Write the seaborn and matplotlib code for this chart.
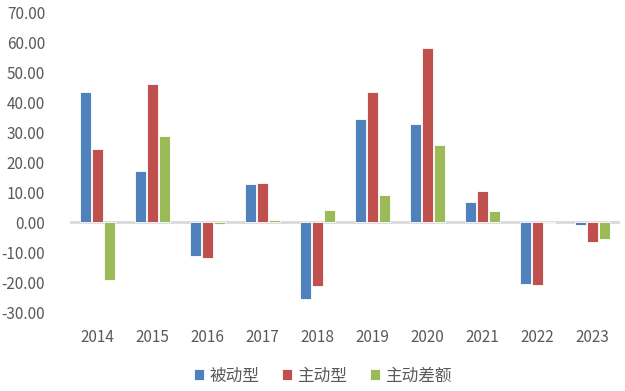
import pandas as pd
import matplotlib.pyplot as plt
import seaborn as sns

years = ["2014", "2015", "2016", "2017", "2018", "2019", "2020", "2021", "2022", "2023"]
passive = [43.3, 17.0, -11.3, 12.7, -25.6, 34.4, 32.6, 6.7, -20.5, -1.0]
active = [24.3, 46.1, -12.0, 13.0, -21.3, 43.3, 58.2, 10.4, -20.9, -6.8]
excess = [-19.2, 28.7, -0.5, 0.6, 4.0, 9.0, 25.6, 3.6, -0.2, -5.6]
series_names = ["被动型", "主动型", "主动差额"]
colors = ["#4F81BD", "#C0504D", "#9BBB59"]

df = pd.DataFrame({
    "year": years * 3,
    "value": passive + active + excess,
    "series": [series_names[0]] * 10 + [series_names[1]] * 10 + [series_names[2]] * 10
})

sns.set_style("white")
plt.rcParams["font.family"] = ["Noto Sans CJK SC", "DejaVu Sans"]

fig = plt.figure(figsize=(6.25, 3.91), dpi=100)
ax = fig.add_axes([0.112, 0.202, 0.88, 0.767])

sns.barplot(
    data=df,
    x="year",
    y="value",
    hue="series",
    palette=colors,
    saturation=1,
    width=0.66,
    gap=0.08,
    edgecolor="white",
    linewidth=0.6,
    ax=ax
)

ax.axhline(0, color="#D9D9D9", linewidth=2, zorder=0.5)
ax.set_ylim(-30, 70)
ax.set_yticks(range(-30, 80, 10))
ax.set_yticklabels([f"{v:.2f}" for v in range(-30, 80, 10)])
ax.set_xlim(-0.5, 9.5)
ax.set_xlabel("")
ax.set_ylabel("")
sns.despine(ax=ax, left=True, bottom=True)
ax.tick_params(axis="both", length=0, labelsize=11, labelcolor="#595959")
ax.tick_params(axis="x", pad=12)
ax.tick_params(axis="y", pad=18)

handles, labels = ax.get_legend_handles_labels()
ax.legend(
    handles, labels,
    loc="upper center",
    bbox_to_anchor=(0.46, -0.135),
    ncol=3,
    frameon=False,
    handlelength=0.6,
    handleheight=0.6,
    handletextpad=0.3,
    columnspacing=1.4,
    fontsize=12,
    labelcolor="#595959"
)

plt.savefig("out.png", dpi=100)
